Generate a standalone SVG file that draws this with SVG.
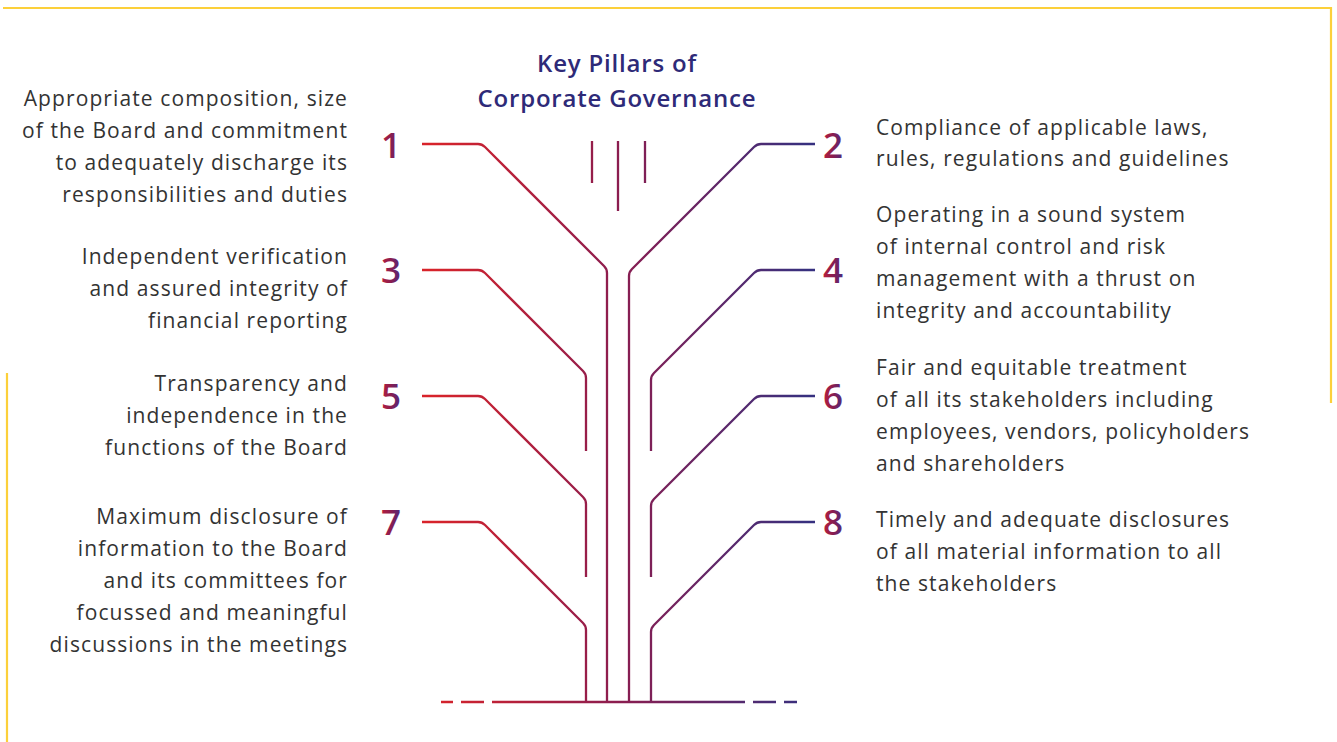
<svg xmlns="http://www.w3.org/2000/svg" width="1337" height="742" viewBox="0 0 1337 742">
<defs>
<linearGradient id="lg" gradientUnits="userSpaceOnUse" x1="430" y1="0" x2="810" y2="0">
<stop offset="0" stop-color="#d8232a"/>
<stop offset="0.5" stop-color="#8a1d50"/>
<stop offset="1" stop-color="#36307f"/>
</linearGradient>
<linearGradient id="ng" x1="0" y1="0" x2="1" y2="0">
<stop offset="0" stop-color="#b81f3c"/>
<stop offset="0.5" stop-color="#8a1d50"/>
<stop offset="1" stop-color="#4a2a80"/>
</linearGradient>
<style>
.ln{fill:none;stroke:url(#lg);stroke-width:2.3;stroke-linecap:butt;stroke-linejoin:round}
.tx{font-family:"Open Sans","Liberation Sans",sans-serif;font-size:21px;letter-spacing:1.1px;fill:#333333}
.l{text-anchor:end}
.num{font-family:"Open Sans","Liberation Sans",sans-serif;font-size:35px;font-weight:600;fill:url(#ng);text-anchor:middle}
.title{font-family:"Open Sans","Liberation Sans",sans-serif;font-size:24px;font-weight:600;letter-spacing:0.8px;fill:#2e2a78;text-anchor:middle}
.frame{fill:none;stroke:#fcd03a;stroke-width:2.2}
</style>
</defs>
<g id="frame">
<path class="frame" d="M3,8 H1331 V403"/>
<path class="frame" d="M7,373 V742"/>
</g>
<g id="title">
<text class="title" x="617" y="72">Key Pillars of</text>
<text class="title" x="617" y="107">Corporate Governance</text>
</g>
<g id="connectors">
<path class="ln" d="M422,144 H478 Q482,144 485,147 L604,266 Q607,269 607,273 V702"/>
<path class="ln" d="M422,270 H478 Q482,270 485,273 L583,371 Q586,374 586,378 V451"/>
<path class="ln" d="M422,396 H478 Q482,396 485,399 L583,497 Q586,500 586,504 V577"/>
<path class="ln" d="M422,522 H478 Q482,522 485,525 L583,623 Q586,626 586,630 V702"/>
<path class="ln" d="M815,144 H761 Q757,144 754,147 L632,269 Q629,272 629,276 V702"/>
<path class="ln" d="M815,270 H761 Q757,270 754,273 L654,373 Q651,376 651,380 V451"/>
<path class="ln" d="M815,396 H761 Q757,396 754,399 L654,499 Q651,502 651,506 V577"/>
<path class="ln" d="M815,522 H761 Q757,522 754,525 L654,625 Q651,628 651,632 V702"/>
<path class="ln" d="M492,702 H745 M441,702 H453 M461,702 H484 M753,702 H776 M784,702 H797"/>
<path class="ln" d="M592,141 V183 M618,141 V211 M645,141 V183"/>
</g>
<g id="p1">
<text class="num" x="391" y="158">1</text>
<text class="tx l" x="348" y="106">Appropriate composition, size</text>
<text class="tx l" x="348" y="138">of the Board and commitment</text>
<text class="tx l" x="348" y="170">to adequately discharge its</text>
<text class="tx l" x="348" y="202">responsibilities and duties</text>
</g>
<g id="p3">
<text class="num" x="391" y="283">3</text>
<text class="tx l" x="348" y="264">Independent verification</text>
<text class="tx l" x="348" y="296">and assured integrity of</text>
<text class="tx l" x="348" y="328">financial reporting</text>
</g>
<g id="p5">
<text class="num" x="391" y="409">5</text>
<text class="tx l" x="348" y="391">Transparency and</text>
<text class="tx l" x="348" y="423">independence in the</text>
<text class="tx l" x="348" y="455">functions of the Board</text>
</g>
<g id="p7">
<text class="num" x="391" y="535">7</text>
<text class="tx l" x="348" y="524">Maximum disclosure of</text>
<text class="tx l" x="348" y="556">information to the Board</text>
<text class="tx l" x="348" y="588">and its committees for</text>
<text class="tx l" x="348" y="620">focussed and meaningful</text>
<text class="tx l" x="348" y="652">discussions in the meetings</text>
</g>
<g id="p2">
<text class="num" x="833" y="158">2</text>
<text class="tx" x="876" y="135">Compliance of applicable laws,</text>
<text class="tx" x="876" y="166">rules, regulations and guidelines</text>
</g>
<g id="p4">
<text class="num" x="833" y="283">4</text>
<text class="tx" x="876" y="222">Operating in a sound system</text>
<text class="tx" x="876" y="254">of internal control and risk</text>
<text class="tx" x="876" y="286">management with a thrust on</text>
<text class="tx" x="876" y="318">integrity and accountability</text>
</g>
<g id="p6">
<text class="num" x="833" y="409">6</text>
<text class="tx" x="876" y="375">Fair and equitable treatment</text>
<text class="tx" x="876" y="407">of all its stakeholders including</text>
<text class="tx" x="876" y="439">employees, vendors, policyholders</text>
<text class="tx" x="876" y="471">and shareholders</text>
</g>
<g id="p8">
<text class="num" x="833" y="535">8</text>
<text class="tx" x="876" y="527">Timely and adequate disclosures</text>
<text class="tx" x="876" y="559">of all material information to all</text>
<text class="tx" x="876" y="591">the stakeholders</text>
</g>
</svg>
